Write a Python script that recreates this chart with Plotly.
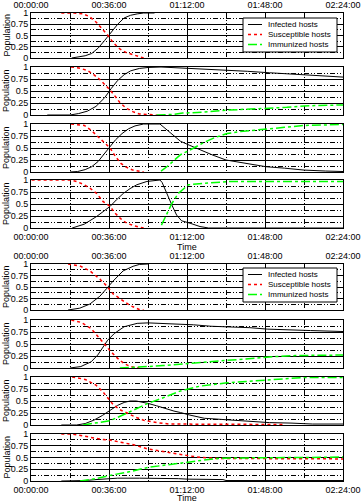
import plotly.graph_objects as go

# ---------------- data (time in minutes, population fraction) ----------------
TICK_MIN = [0, 36, 72, 108, 144]
TICK_TEXT = ["00:00:00", "00:36:00", "01:12:00", "01:48:00", "02:24:00"]
MINOR_MIN = [18, 54, 90, 126]
Y_TICKS = [0, 0.25, 0.5, 0.75, 1]
Y_TEXT = ["0", "0.25", "0.5", "0.75", "1"]
Y_MINOR = [0.125, 0.375, 0.625, 0.875]
SERIES_NAMES = ["Infected hosts", "Susceptible hosts", "Immunized hosts"]

# Group 1, panel 1
p1_inf_t = [18.8, 22, 25, 28, 31, 34, 37.5, 40, 43, 46, 49, 52, 57]
p1_inf_v = [0.0, 0.02, 0.05, 0.1, 0.22, 0.39, 0.6, 0.75, 0.89, 0.95, 0.98, 1.0, 1.0]
p1_sus_t = [14, 20, 24, 27, 30, 33, 35.5, 38, 41, 44, 47, 50, 52]
p1_sus_v = [1, 1, 0.98, 0.92, 0.8, 0.64, 0.5, 0.34, 0.2, 0.12, 0.07, 0.02, 0.0]
p1_imm_t = []
p1_imm_v = []

# Group 1, panel 2
p2_inf_t = [7.5, 18, 22, 26, 30, 34, 37, 40, 43, 46, 50, 54, 60, 70, 80, 90, 100, 110, 120, 130, 144]
p2_inf_v = [0, 0, 0.03, 0.08, 0.18, 0.36, 0.55, 0.72, 0.84, 0.92, 0.97, 0.99, 1.0, 0.98, 0.96, 0.93, 0.91, 0.88, 0.85, 0.82, 0.79]
p2_sus_t = [18.5, 22, 26, 29, 32, 34.5, 36.5, 39, 41, 44, 47, 50, 58]
p2_sus_v = [1, 0.98, 0.93, 0.84, 0.73, 0.62, 0.52, 0.38, 0.26, 0.14, 0.07, 0.02, 0]
p2_imm_t = [58, 65, 70, 80, 90, 100, 108, 118, 126, 135, 144]
p2_imm_v = [0, 0.01, 0.04, 0.06, 0.1, 0.12, 0.14, 0.16, 0.19, 0.2, 0.21]

# Group 1, panel 3
p3_inf_t = [18, 21.5, 25, 28, 31, 34, 36.5, 39, 42, 45, 48, 52, 59.5, 62, 65, 69, 73, 78, 84, 90, 99.5, 108.5, 117, 126, 136, 144]
p3_inf_v = [0, 0.01, 0.05, 0.11, 0.22, 0.38, 0.52, 0.67, 0.8, 0.9, 0.96, 1, 1, 0.9, 0.78, 0.64, 0.56, 0.46, 0.35, 0.25, 0.18, 0.11, 0.08, 0.04, 0.02, 0.01]
p3_sus_t = [18.5, 24.6, 28, 30.5, 33, 36.5, 39, 41.5, 44, 47, 52]
p3_sus_v = [1, 0.97, 0.86, 0.75, 0.64, 0.5, 0.32, 0.18, 0.1, 0.04, 0]
p3_imm_t = [60, 63, 66, 69, 73, 76.5, 80, 85, 90.5, 96, 102, 108.5, 117, 126, 135, 144]
p3_imm_v = [0.02, 0.12, 0.24, 0.36, 0.45, 0.54, 0.62, 0.72, 0.8, 0.84, 0.87, 0.89, 0.93, 0.97, 0.98, 0.99]

# Group 1, panel 4
p4_inf_t = [19, 24.6, 30.3, 33.3, 36.5, 39.5, 42.6, 45.7, 48.8, 53.5, 59.5, 60.5, 62.6, 65, 67.2, 69.5, 73.4, 78, 82, 144]
p4_inf_v = [0, 0.08, 0.24, 0.34, 0.45, 0.59, 0.72, 0.82, 0.9, 0.97, 1.0, 0.95, 0.72, 0.48, 0.27, 0.15, 0.1, 0.03, 0.0, 0.0]
p4_sus_t = [0.3, 18, 21, 24.6, 27.5, 30.3, 33.3, 36.5, 38.8, 41.5, 44.2, 48, 52]
p4_sus_v = [1, 1, 0.97, 0.9, 0.82, 0.72, 0.55, 0.45, 0.31, 0.19, 0.1, 0.04, 0]
p4_imm_t = [60.2, 62.6, 65, 68, 72.6, 79.5, 92, 110, 144]
p4_imm_v = [0.06, 0.3, 0.51, 0.72, 0.9, 0.93, 0.97, 0.97, 0.97]

# Group 2, panel 5
p5_inf_t = [17.1, 22.5, 27.2, 31.8, 34.8, 37.9, 42.5, 47.1, 50, 54]
p5_inf_v = [0, 0.04, 0.13, 0.3, 0.46, 0.63, 0.85, 0.95, 0.99, 1.0]
p5_sus_t = [17.1, 22.5, 27.2, 31.8, 34.8, 37.9, 41, 45.6, 50, 52]
p5_sus_v = [1, 0.96, 0.85, 0.67, 0.53, 0.35, 0.25, 0.1, 0.01, 0]
p5_imm_t = []
p5_imm_v = []

# Group 2, panel 6
p6_inf_t = [18, 23, 27.8, 30.8, 35.4, 38.5, 43, 49, 54, 60, 68.8, 75, 83, 90, 101, 109, 119, 129, 144]
p6_inf_v = [0, 0.03, 0.13, 0.27, 0.58, 0.72, 0.86, 0.93, 0.94, 0.93, 0.91, 0.9, 0.87, 0.86, 0.84, 0.81, 0.79, 0.78, 0.76]
p6_sus_t = [18.6, 23.2, 27.8, 30.8, 33.8, 36.9, 40, 43, 46, 50]
p6_sus_v = [1, 0.95, 0.82, 0.66, 0.52, 0.34, 0.2, 0.09, 0.03, 0]
p6_imm_t = [41, 47, 54, 61, 69, 80, 92, 101, 110, 122, 141, 144]
p6_imm_v = [0, 0.02, 0.03, 0.05, 0.08, 0.13, 0.17, 0.2, 0.23, 0.26, 0.27, 0.27]

# Group 2, panel 7
p7_inf_t = [14, 21, 25, 29, 33, 36.5, 40, 43, 45.7, 48.6, 51, 54, 58, 62, 66, 69, 73, 80, 90, 100, 110, 120, 130, 144]
p7_inf_v = [0, 0, 0.03, 0.1, 0.2, 0.31, 0.41, 0.47, 0.5, 0.5, 0.48, 0.45, 0.4, 0.34, 0.29, 0.26, 0.21, 0.14, 0.11, 0.07, 0.05, 0.04, 0.02, 0.02]
p7_sus_t = [19, 25, 30, 33, 35, 36.5, 38, 41, 44, 46, 49, 52, 58, 64, 80, 100, 117]
p7_sus_v = [1, 0.95, 0.83, 0.7, 0.59, 0.5, 0.42, 0.32, 0.25, 0.21, 0.15, 0.1, 0.05, 0.02, 0.02, 0.01, 0.01]
p7_imm_t = [24, 30, 36.5, 40, 44, 48, 54, 60, 65, 69, 78, 90.5, 100, 108.5, 118, 126, 144]
p7_imm_v = [0, 0.04, 0.09, 0.16, 0.24, 0.33, 0.45, 0.55, 0.64, 0.71, 0.81, 0.88, 0.91, 0.94, 0.97, 0.99, 0.99]

# Group 2, panel 8
p8_inf_t = [14, 20, 25, 30, 35, 40, 50, 60, 68, 72, 80, 88.6, 90, 100, 144]
p8_inf_v = [0, 0, 0.01, 0.03, 0.04, 0.06, 0.06, 0.06, 0.05, 0.04, 0.03, 0.03, 0.01, 0.01, 0.01]
p8_sus_t = [14, 18.8, 24, 32, 36.5, 41, 47.4, 54, 62.5, 69, 76.5, 85.7, 90.5, 100, 120, 144]
p8_sus_v = [1, 1, 0.96, 0.89, 0.87, 0.83, 0.77, 0.68, 0.61, 0.57, 0.51, 0.48, 0.48, 0.47, 0.47, 0.47]
p8_imm_t = [22.6, 30, 36.5, 45.7, 54, 61, 69, 76.5, 85.7, 95, 110, 125, 144]
p8_imm_v = [0, 0.05, 0.12, 0.2, 0.29, 0.33, 0.39, 0.43, 0.48, 0.49, 0.49, 0.5, 0.51]

PANELS = [
    (p1_inf_t, p1_inf_v, p1_sus_t, p1_sus_v, p1_imm_t, p1_imm_v),
    (p2_inf_t, p2_inf_v, p2_sus_t, p2_sus_v, p2_imm_t, p2_imm_v),
    (p3_inf_t, p3_inf_v, p3_sus_t, p3_sus_v, p3_imm_t, p3_imm_v),
    (p4_inf_t, p4_inf_v, p4_sus_t, p4_sus_v, p4_imm_t, p4_imm_v),
    (p5_inf_t, p5_inf_v, p5_sus_t, p5_sus_v, p5_imm_t, p5_imm_v),
    (p6_inf_t, p6_inf_v, p6_sus_t, p6_sus_v, p6_imm_t, p6_imm_v),
    (p7_inf_t, p7_inf_v, p7_sus_t, p7_sus_v, p7_imm_t, p7_imm_v),
    (p8_inf_t, p8_inf_v, p8_sus_t, p8_sus_v, p8_imm_t, p8_imm_v),
]

# ---------------- layout (pixel geometry) ----------------
W, H = 361, 502
FONT = "Liberation Sans"
X_LEFT, X_RIGHT = 31, 343
PANEL_PX = [(13, 58), (67, 115), (124, 172), (180, 228),
            (264, 310), (320, 368), (377, 425), (434, 481)]
STYLES = [dict(color="black", width=1, dash="solid"),
          dict(color="red", width=1.5, dash="dot"),
          dict(color="#00ff00", width=1.5, dash="dashdot")]
GRID_DASH = "5px,2px,1px,2px,1px,2px"
LEGEND_TOPS = [18, 268]   # legend box top (px) for each group
LEGEND_X0, LEGEND_X1 = 243, 337
TIME_Y = [247, 498]


def px_x(v):
    return v / W


def px_y(v):
    return 1 - v / H


fig = go.Figure()
annotations = []
shapes = []
layout = dict(
    width=W, height=H, margin=dict(l=0, r=0, t=0, b=0, autoexpand=False),
    paper_bgcolor="white", plot_bgcolor="white",
    font=dict(family=FONT, size=9, color="black"),
    showlegend=False,
)

for i, (panel, (top, bot)) in enumerate(zip(PANELS, PANEL_PX), start=1):
    sfx = "" if i == 1 else str(i)
    xa, ya = "xaxis" + sfx, "yaxis" + sfx
    group_first = i in (1, 5)
    group_last = i in (4, 8)
    layout[xa] = dict(
        domain=[px_x(X_LEFT), px_x(X_RIGHT)], anchor="y" + sfx, range=[0, 144],
        tickmode="array", tickvals=TICK_MIN, ticktext=TICK_TEXT,
        showticklabels=group_first or group_last,
        side="top" if group_first else "bottom",
        ticks="", ticklabelstandoff=0, automargin=False,
        showline=True, mirror=True, linecolor="black", linewidth=1,
        showgrid=True, gridcolor="black", gridwidth=1, zeroline=False,
        minor=dict(tickvals=MINOR_MIN, showgrid=True, gridcolor="black",
                   griddash=GRID_DASH, gridwidth=1, ticks=""),
        tickfont=dict(size=9, family=FONT),
    )
    layout[ya] = dict(
        domain=[px_y(bot), px_y(top)], anchor="x" + sfx, range=[0, 1],
        tickmode="array", tickvals=Y_TICKS, ticktext=Y_TEXT,
        ticks="", automargin=False,
        showline=True, mirror=True, linecolor="black", linewidth=1,
        showgrid=True, gridcolor="black", gridwidth=1, zeroline=False,
        minor=dict(tickvals=Y_MINOR, showgrid=True, gridcolor="black",
                   griddash=GRID_DASH, gridwidth=1, ticks=""),
        tickfont=dict(size=9, family=FONT),
    )
    for k in range(3):
        tx, ty = panel[2 * k], panel[2 * k + 1]
        fig.add_trace(go.Scatter(
            x=tx, y=ty, mode="lines", name=SERIES_NAMES[k],
            line=STYLES[k], xaxis="x" + sfx, yaxis="y" + sfx,
        ))
    annotations.append(dict(
        text="Population", textangle=-90, xref="paper", yref="paper",
        x=px_x(6), y=px_y((top + bot) / 2), showarrow=False,
        xanchor="center", yanchor="middle", font=dict(size=9, family=FONT),
    ))

for ty in TIME_Y:
    annotations.append(dict(
        text="Time", xref="paper", yref="paper", x=px_x(187), y=px_y(ty),
        showarrow=False, xanchor="center", yanchor="middle",
        font=dict(size=9, family=FONT),
    ))

# legend boxes (one per group), drawn in paper pixels
for top in LEGEND_TOPS:
    shapes.append(dict(type="rect", xref="paper", yref="paper",
                       x0=px_x(LEGEND_X0), x1=px_x(LEGEND_X1),
                       y0=px_y(top + 34), y1=px_y(top),
                       line=dict(color="black", width=1), fillcolor="white",
                       layer="above"))
    for k, name in enumerate(SERIES_NAMES):
        row = top + 6.5 + 10 * k
        shapes.append(dict(type="line", xref="paper", yref="paper",
                           x0=px_x(248), x1=px_x(262), y0=px_y(row), y1=px_y(row),
                           line=STYLES[k], layer="above"))
        annotations.append(dict(text=name, xref="paper", yref="paper",
                                x=px_x(266), y=px_y(row), showarrow=False,
                                xanchor="left", yanchor="middle",
                                font=dict(size=8, family=FONT)))

layout["annotations"] = annotations
layout["shapes"] = shapes
fig.update_layout(**layout)
fig.write_html(
    "out.html",
    config={"displayModeBar": False},
    post_script="document.body.style.margin='0';document.body.style.padding='0';"
                "document.documentElement.style.overflow='hidden';",
)
